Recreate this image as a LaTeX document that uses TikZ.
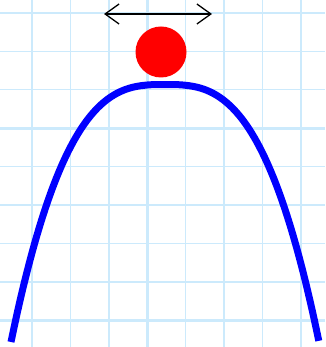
\documentclass[tikz,border=0pt]{standalone}
\usepackage{xcolor}
\usepackage{tikz}
\usetikzlibrary{arrows.meta,positioning,calc}

\definecolor{gridblue}{RGB}{204,234,252}

\tikzset{
    gridline/.style={draw=gridblue, line width=1.4pt},
    majorline/.style={draw=gridblue, line width=3pt},
    hill/.style={draw=blue, line width=7pt},
    ball/.style={circle, fill=red, inner sep=0pt, minimum size=51pt},
    swing/.style={draw=black, line width=1.3pt, {Straight Barb[length=14pt, width=20pt]}-{Straight Barb[length=14pt, width=20pt]}}
}

\begin{document}
\begin{tikzpicture}[x=1pt, y=-1pt]
    \useasboundingbox (0,0) rectangle (325,347);
    \fill[white] (0,0) rectangle (325,347);

    % Grid
    \foreach \i in {0,...,7}
        \draw[gridline] ({32+38.4*\i},0) -- ({32+38.4*\i},347);
    \foreach \j in {0,...,8}
        \draw[gridline] (0,{13+38.4*\j}) -- (325,{13+38.4*\j});
    \draw[majorline] (147.2,0) -- (147.2,347);
    \draw[majorline] (0,128.2) -- (325,128.2);
    \draw[majorline] (0,320.2) -- (325,320.2);

    % Hill
    \draw[hill] plot[domain=-1:1, samples=100, smooth]
        ({165+154*\x}, {342-257.5*(1-abs(\x)^2.9)});

    % Ball
    \node[ball] (ball) at (161,52) {};

    % Motion
    \coordinate (swingL) at (104,14);
    \coordinate (swingR) at (212,14);
    \draw[swing] (swingL) -- (swingR);
\end{tikzpicture}
\end{document}
